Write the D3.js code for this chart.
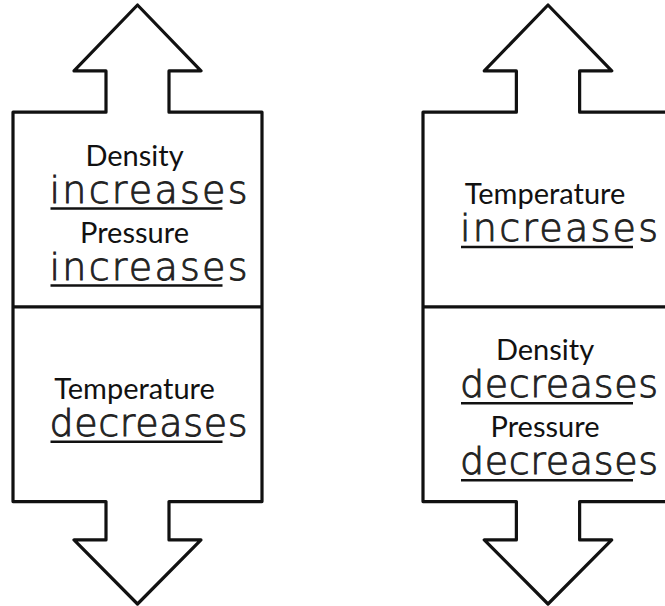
<!DOCTYPE html>
<meta charset="utf-8">
<style>
 body { margin: 0; background: #fff; }
 .outline { fill: none; stroke: #111; stroke-width: 3.2px; stroke-linejoin: round; }
 .label { font-family: Lato, "Open Sans", sans-serif; font-size: 29px; fill: #111; text-anchor: middle; }
 .answer { font-family: "DejaVu Sans", sans-serif; font-weight: 200; font-size: 38px; fill: #222; stroke: #222; stroke-width: 0.9px; }
 .rule { stroke: #111; stroke-width: 2.6px; }
</style>
<body>
<script src="https://d3js.org/d3.v7.min.js"></script>
<script>

// the two arrow-boxes and what is written in their halves
var shapes = ["left", "right"];
var leftTopLabels = ["Density", "Pressure"];
var leftTopAnswers = ["increases", "increases"];
var leftBottomLabels = ["Temperature"];
var leftBottomAnswers = ["decreases"];
var rightTopLabels = ["Temperature"];
var rightTopAnswers = ["increases"];
var rightBottomLabels = ["Density", "Pressure"];
var rightBottomAnswers = ["decreases", "decreases"];

var width = 665, height = 606;

var svg = d3.select("body").append("svg")
    .attr("width", width)
    .attr("height", height);

// each shape lives in its own unit box: x -1..1 across the box, y 0..1 tip to tip
var xScales = {
  left: d3.scaleLinear().domain([-1, 1]).range([13, 262]),
  right: d3.scaleLinear().domain([-1, 1]).range([423, 673])
};
var y = d3.scaleLinear().domain([0, 1]).range([5, 604]);

// outline of the double arrow with box, in unit coords
var stem = 0.253, head = 0.51;
var headBase = 0.11, boxTop = 0.179, divider = 0.504, boxBottom = 0.829, lowHead = 0.893;
var outline = [
  [0, 0], [head, headBase], [stem, headBase], [stem, boxTop], [1, boxTop],
  [1, boxBottom], [stem, boxBottom], [stem, lowHead], [head, lowHead], [0, 1],
  [-head, lowHead], [-stem, lowHead], [-stem, boxBottom], [-1, boxBottom],
  [-1, boxTop], [-stem, boxTop], [-stem, headBase], [-head, headBase]
];

var panels = [
  {shape: "left", top: boxTop, bottom: divider, labels: leftTopLabels, answers: leftTopAnswers},
  {shape: "left", top: divider, bottom: boxBottom, labels: leftBottomLabels, answers: leftBottomAnswers},
  {shape: "right", top: boxTop, bottom: divider, labels: rightTopLabels, answers: rightTopAnswers},
  {shape: "right", top: divider, bottom: boxBottom, labels: rightBottomLabels, answers: rightBottomAnswers}
];

shapes.forEach(function(s) {
  var x = xScales[s];
  var line = d3.line()
      .x(function(d) { return x(d[0]); })
      .y(function(d) { return y(d[1]); })
      .curve(d3.curveLinearClosed);
  svg.append("path")
      .attr("class", "outline")
      .attr("d", line(outline));
  svg.append("line")
      .attr("class", "rule")
      .style("stroke-width", "3.2px")
      .attr("x1", x(-1)).attr("x2", x(1))
      .attr("y1", y(divider)).attr("y2", y(divider));
});

// text groups: label, handwritten answer, underline
var groupH = 63, pitch = 77;
panels.forEach(function(p) {
  var x = xScales[p.shape];
  var cx = x(0);
  var n = p.labels.length;
  var total = groupH + (n - 1) * pitch;
  var mid = (y(p.top) + y(p.bottom)) / 2 + 6;
  var top0 = mid - total / 2;
  p.labels.forEach(function(lab, i) {
    var t = top0 + i * pitch;
    svg.append("text")
        .attr("class", "label")
        .attr("x", cx - 3)
        .attr("y", t + 20)
        .text(lab);
    svg.append("text")
        .attr("class", "answer")
        .attr("x", cx - 88)
        .attr("y", t + 57)
        .attr("textLength", 198)
        .attr("lengthAdjust", "spacing")
        .text(p.answers[i]);
    svg.append("line")
        .attr("class", "rule")
        .attr("x1", cx - 87).attr("x2", cx + 85)
        .attr("y1", t + 63).attr("y2", t + 63);
  });
});

</script>
</body>
